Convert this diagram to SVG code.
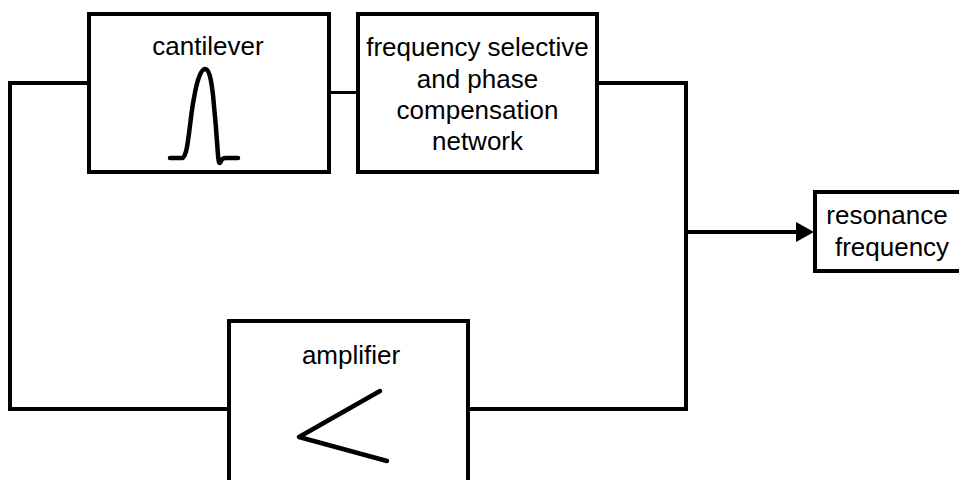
<svg xmlns="http://www.w3.org/2000/svg" width="959" height="480" viewBox="0 0 959 480">
<style>
.box{fill:#fff;stroke:#000;stroke-width:4}
.line{fill:none;stroke:#000;stroke-width:4}
.thin{stroke-width:3}
.sym{fill:none;stroke:#000;stroke-width:4.500;stroke-linecap:round;stroke-linejoin:round}
text{font-family:"Liberation Sans",Arial,sans-serif;font-size:26px;fill:#000;text-anchor:middle}
</style>
<rect width="959" height="480" fill="#fff"/>
<g id="connectors">
<path class="line" d="M90 83H10V409H229"/>
<path class="line thin" d="M329 92.500H358"/>
<path class="line" d="M597 83H686V409H468"/>
<path class="line" d="M686 232H800"/>
<polygon points="796,222 814,232 796,242" fill="#000"/>
</g>
<g id="cantilever">
<rect class="box" x="89" y="14" width="240" height="158"/>
<text x="208" y="55">cantilever</text>
<path class="sym" d="M170 158H182Q185 158 187 147C190 130 191 112 194 98C197 80 201 69 205 69C209 69 211 78 213 95C215 115 217 140 218 155Q219 167 221 161Q222 158 226 158H238"/>
</g>
<g id="network">
<rect class="box" x="358" y="14" width="239" height="158"/>
<text x="477.500" y="56">frequency selective</text>
<text x="477.500" y="88">and phase</text>
<text x="477.500" y="119">compensation</text>
<text x="477.500" y="150">network</text>
</g>
<g id="resonance">
<rect class="box" x="815" y="192" width="150" height="79"/>
<text x="887" y="224">resonance</text>
<text x="892" y="256">frequency</text>
</g>
<g id="amplifier">
<rect class="box" x="229" y="321" width="239" height="165"/>
<text x="351" y="364">amplifier</text>
<path class="sym" d="M380 391L299 437L387 461"/>
</g>
</svg>
